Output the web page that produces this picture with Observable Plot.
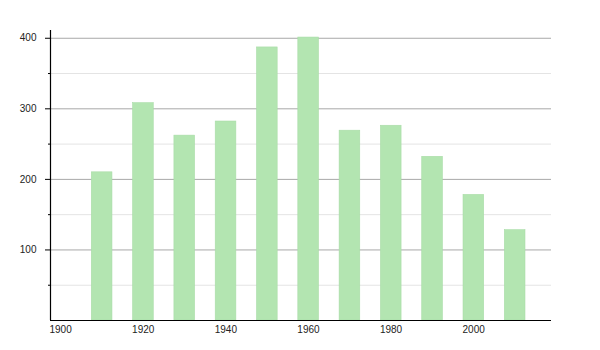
<!DOCTYPE html>
<html>
<head>
<meta charset="utf-8">
<script src="https://cdn.jsdelivr.net/npm/d3@7"></script>
<script src="https://cdn.jsdelivr.net/npm/@observablehq/plot@0.6"></script>
<style>
  html, body { margin: 0; padding: 0; background: #fff; }
  #chart svg { display: block; }
</style>
</head>
<body>
<div id="chart"></div>
<script>
const years = [1910, 1920, 1930, 1940, 1950, 1960, 1970, 1980, 1990, 2000, 2010];
const population = [210, 308, 262, 282, 387, 401, 269, 276, 232, 178, 128];
const xTicks = [1900, 1920, 1940, 1960, 1980, 2000];
const yMajor = [100, 200, 300, 400];
const yMinor = [50, 150, 250, 350];

const data = years.map((y, i) => ({year: y, value: population[i]}));
const barSpan = 5;

const chart = Plot.plot({
  width: 600,
  height: 350,
  marginLeft: 50,
  marginRight: 49,
  marginTop: 30,
  marginBottom: 30,
  style: {fontFamily: "'Liberation Sans', Arial, sans-serif", fontSize: "10px", color: "#222", background: "#fff"},
  x: {domain: [1900, 2021.3], label: null},
  y: {domain: [0, 411], label: null},
  marks: [
    Plot.ruleY(yMinor, {stroke: "#e4e4e4", strokeWidth: 1}),
    Plot.ruleY(yMajor, {stroke: "#a8a8a8", strokeWidth: 1}),
    Plot.rectY(data, {x1: "year", x2: d => d.year + barSpan, y1: 0, y2: "value", fill: "#b3e5b1", stroke: "#a9dca7", strokeWidth: 0.6}),
    Plot.axisY(yMajor, {tickSize: 5, tickPadding: 9, stroke: "#000", fill: "#222", label: null}),
    Plot.axisY(yMinor, {tickSize: 2, text: null, stroke: "#000", label: null}),
    Plot.axisX(xTicks, {tickSize: 0, tickPadding: 5, textAnchor: "start", dx: -1, fill: "#222", tickFormat: "d", label: null}),
    Plot.ruleX([1900], {stroke: "#000", strokeWidth: 1.2}),
    Plot.ruleY([0], {stroke: "#000", strokeWidth: 1.2})
  ]
});
document.getElementById("chart").appendChild(chart);
</script>
</body>
</html>
